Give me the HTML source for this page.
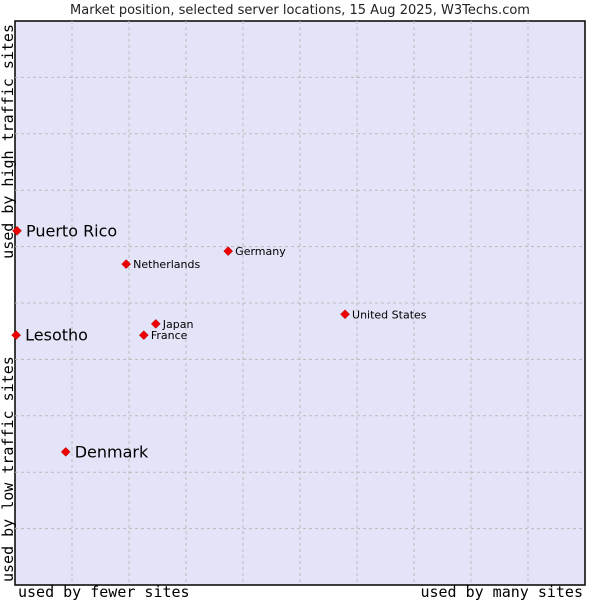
<!DOCTYPE html>
<html><head><meta charset="utf-8"><style>
body{margin:0;background:#fff;}
svg{display:block;font-family:"DejaVu Sans","Liberation Sans",sans-serif;}
</style></head><body>
<svg id="chart" width="600" height="600" viewBox="0 0 600 600">
<text x="300" y="14" text-anchor="middle" font-size="13" fill="#222">Market position, selected server locations, 15 Aug 2025, W3Techs.com</text>
<rect x="15" y="21" width="570" height="564" fill="#e4e4f8" stroke="#000" stroke-width="1.5"/>
<g id="grid"></g>
<g id="points"></g>
<text x="18" y="597" font-family="'DejaVu Sans Mono','Liberation Mono',monospace" font-size="15" fill="#000">used by fewer sites</text>
<text x="583" y="597" text-anchor="end" font-family="'DejaVu Sans Mono','Liberation Mono',monospace" font-size="15" fill="#000">used by many sites</text>
<text transform="translate(13,582) rotate(-90)" font-family="'DejaVu Sans Mono','Liberation Mono',monospace" font-size="15" fill="#000">used by low traffic sites</text>
<text transform="translate(13,24) rotate(-90)" text-anchor="end" font-family="'DejaVu Sans Mono','Liberation Mono',monospace" font-size="15" fill="#000">used by high traffic sites</text>
</svg>
<script>
const names=["Puerto Rico","Lesotho","Denmark","Netherlands","Germany","Japan","France","United States"];
const xValues=[0.035,0.02,0.89,1.95,3.74,2.47,2.26,5.79];
const yValues=[6.28,4.43,2.36,5.69,5.92,4.63,4.43,4.80];
const large=[true,true,true,false,false,false,false,false];
const ns="http://www.w3.org/2000/svg";
const X0=15,X1=585,Y0=585,Y1=21;
function sx(v){return X0+v/10*(X1-X0);}
function sy(v){return Y0-v/10*(Y0-Y1);}
const grid=document.getElementById('grid');
for(let i=1;i<10;i++){
  let l=document.createElementNS(ns,'line');
  l.setAttribute('x1',sx(i));l.setAttribute('x2',sx(i));l.setAttribute('y1',Y1);l.setAttribute('y2',Y0);
  l.setAttribute('stroke','#bbb');l.setAttribute('stroke-dasharray','3,3');
  
  
  grid.appendChild(l);
  let h=document.createElementNS(ns,'line');
  h.setAttribute('y1',sy(i));h.setAttribute('y2',sy(i));h.setAttribute('x1',X0);h.setAttribute('x2',X1);
  h.setAttribute('stroke','#bbb');h.setAttribute('stroke-dasharray','3,3');
  
  
  grid.appendChild(h);
}
const pts=document.getElementById('points');
names.forEach((n,i)=>{
  const x=sx(xValues[i]),y=sy(yValues[i]);
  const d=document.createElementNS(ns,'path');
  d.setAttribute('d',`M${x} ${y-4.5}L${x+4.5} ${y}L${x} ${y+4.5}L${x-4.5} ${y}Z`);
  d.setAttribute('fill','#e00');d.setAttribute('stroke','#a00');d.setAttribute('stroke-width','0.5');
  
  
  pts.appendChild(d);
  const t=document.createElementNS(ns,'text');
  t.setAttribute('x',x+(large[i]?9:7));t.setAttribute('y',y+(large[i]?5.5:4));
  t.setAttribute('font-size',large[i]?16:11);t.setAttribute('fill','#000');
  t.textContent=n;
  
  
  pts.appendChild(t);
});
</script>
</body></html>
